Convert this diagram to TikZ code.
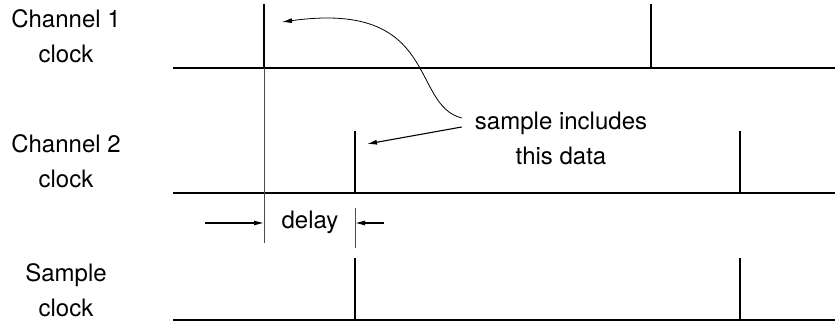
\documentclass[tikz,border=0pt]{standalone}
\usepackage{fontspec}
\setmainfont{TeX Gyre Heros}
\usetikzlibrary{arrows.meta, positioning}

\begin{document}
\begin{tikzpicture}[x=1pt, y=-1pt,
  lbl/.style={font=\fontsize{24}{35}\selectfont, align=center, inner sep=0pt},
  base/.style={line width=2.8pt},
  pulse/.style={line width=2.6pt},
  guide/.style={line width=0.8pt, black!70},
  arr/.style={-{Latex[length=10pt, width=5pt]}, line width=1.1pt},
]
  \useasboundingbox (0,0) rectangle (835,324);

  % signal names
  \node[lbl] (ch1)  at (66,36)  {Channel 1\\clock};
  \node[lbl] (ch2)  at (66,161) {Channel 2\\clock};
  \node[lbl] (smp)  at (66,290) {Sample\\clock};

  % clock lines
  \draw[base] (173,68)  -- (835,68);
  \draw[base] (173,193) -- (835,193);
  \draw[base] (173,320) -- (835,320);

  \draw[pulse] (264,68)  -- (264,4);
  \draw[pulse] (651,68)  -- (651,4);
  \draw[pulse] (355,193) -- (355,131);
  \draw[pulse] (740,193) -- (740,131);
  \draw[pulse] (355,320) -- (355,258);
  \draw[pulse] (740,320) -- (740,258);

  % delay marks
  \draw[guide] (264,68) -- (264,243);
  \draw[guide] (355,208) -- (355,248);
  \coordinate (dlA) at (205,223);
  \coordinate (dlB) at (264,223);
  \coordinate (dlC) at (384,223);
  \coordinate (dlD) at (355,223);
  \node[lbl] (delay) at (310,222) {delay};
  \draw[arr] (dlA) -- (dlB);
  \draw[arr] (dlC) -- (dlD);

  % note
  \node[lbl] (note) at (561,138) {sample includes\\this data};
  \coordinate (tipA) at (282,22);
  \coordinate (tipB) at (367,144);
  \draw[arr, line width=0.8pt] ([shift={(-13pt,20pt)}]note.west) .. controls (410,105) and (440,0) .. (tipA);
  \draw[arr] ([shift={(-13pt,11pt)}]note.west) -- (tipB);
\end{tikzpicture}
\end{document}
